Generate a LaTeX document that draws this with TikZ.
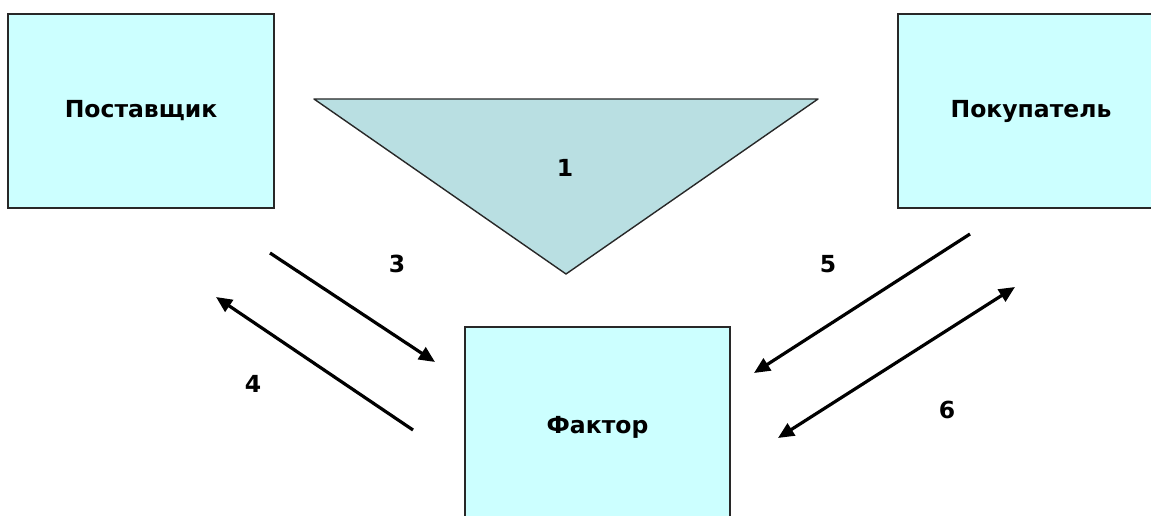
\documentclass[tikz,border=0pt]{standalone}
\usepackage{fontspec}
\setmainfont{DejaVu Sans}
\usetikzlibrary{arrows.meta}
\definecolor{boxfill}{RGB}{204,255,255}
\definecolor{trifill}{RGB}{185,223,226}
\definecolor{edge}{RGB}{40,40,40}
\begin{document}
\begin{tikzpicture}[x=1pt,y=-1pt,
  box/.style={draw=edge, line width=1.6pt, fill=boxfill, inner sep=0pt,
    font=\bfseries\fontsize{23.5}{26}\selectfont},
  num/.style={font=\bfseries\fontsize{23.5}{26}\selectfont, inner sep=0pt},
  arr/.style={line width=3.2pt, -{Triangle[length=16pt,width=14pt]}},
  darr/.style={line width=3.2pt, {Triangle[length=16pt,width=14pt]}-{Triangle[length=16pt,width=14pt]}}
]
\clip (0,0) rectangle (1151,516);
\fill[white] (0,0) rectangle (1151,516);
% boxes
\node[box, minimum width=266pt, minimum height=194pt] (sup) at (141,111) {Поставщик};
\node[box, minimum width=266pt, minimum height=194pt] (buy) at (1031,111) {Покупатель};
\node[box, minimum width=265pt, minimum height=200pt] (fac) at (597.5,427) {Фактор};
% triangle
\coordinate (tl) at (314,99);
\coordinate (tr) at (818,99);
\coordinate (tb) at (566,274);
\draw[draw=edge, line width=1.4pt, fill=trifill, line join=round] (tl) -- (tr) -- (tb) -- cycle;
\node[num] (n1) at (565,168) {1};
% arrow end points
\coordinate (a3s) at (270,253);
\coordinate (a3e) at (435,362);
\coordinate (a4s) at (413,430);
\coordinate (a4e) at (216,297);
\coordinate (a5s) at (970,234);
\coordinate (a5e) at (754,373);
\coordinate (a6s) at (778,438);
\coordinate (a6e) at (1015,287);
\draw[arr] (a3s) -- (a3e);
\draw[arr] (a4s) -- (a4e);
\draw[arr] (a5s) -- (a5e);
\draw[darr] (a6s) -- (a6e);
% labels
\node[num] (n3) at (397,264) {3};
\node[num] (n4) at (253,384) {4};
\node[num] (n5) at (828,264) {5};
\node[num] (n6) at (947,410) {6};
\end{tikzpicture}
\end{document}
